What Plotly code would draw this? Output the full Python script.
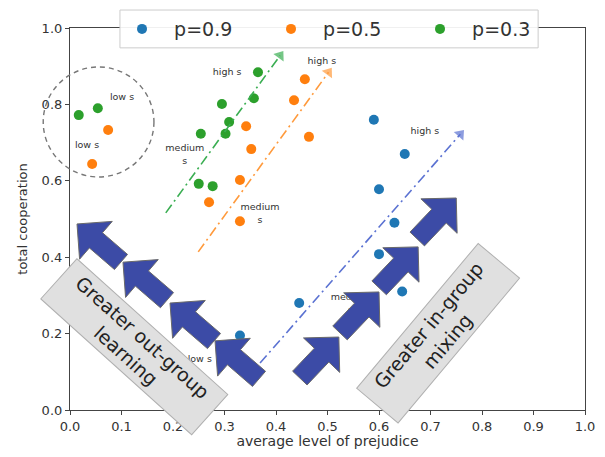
import math
import plotly.graph_objects as go

# ---------------- data ----------------
blue_x = [0.33, 0.445, 0.59, 0.65, 0.60, 0.63, 0.60, 0.645]
blue_y = [0.195, 0.28, 0.76, 0.67, 0.578, 0.49, 0.408, 0.31]

orange_x = [0.074, 0.043, 0.456, 0.435, 0.464, 0.342, 0.352, 0.330, 0.270, 0.330]
orange_y = [0.733, 0.644, 0.866, 0.811, 0.715, 0.743, 0.683, 0.602, 0.544, 0.494]

green_x = [0.017, 0.054, 0.365, 0.295, 0.357, 0.309, 0.302, 0.254, 0.250, 0.277]
green_y = [0.772, 0.790, 0.884, 0.801, 0.816, 0.754, 0.723, 0.723, 0.592, 0.586]

series_names = ["p=0.9", "p=0.5", "p=0.3"]

label_text = ["low s", "low s", "high s", "high s", "medium<br>s", "medium<br>s",
              "high s", "medium<br>s", "low s"]
label_x = [0.101, 0.033, 0.305, 0.489, 0.223, 0.369, 0.689, 0.544, 0.252]
label_y = [0.819, 0.691, 0.882, 0.911, 0.667, 0.513, 0.730, 0.277, 0.131]

# trend arrows (start, end)
green_line_x = [0.186, 0.408]
green_line_y = [0.516, 0.928]
orange_line_x = [0.249, 0.502]
orange_line_y = [0.414, 0.884]
blue_line_x = [0.369, 0.758]
blue_line_y = [0.123, 0.722]

x_ticks = [i / 10 for i in range(11)]
y_ticks = [i / 5 for i in range(6)]

# ---------------- style ----------------
C_BLUE = "#1f77b4"
C_ORANGE = "#ff7f0e"
C_GREEN = "#2ca02c"
FONT = "DejaVu Sans"

W, H = 515, 382  # plot area in px
FIG_W, FIG_H = 589, 441  # page body has an 8px margin
ML, MR, MT, MB = 62, 12, 20, 39

fig = go.Figure()

NB = "\u00a0\u00a0"
for name, xs, ys, c in [(series_names[0], blue_x, blue_y, C_BLUE),
                        (series_names[1], orange_x, orange_y, C_ORANGE),
                        (series_names[2], green_x, green_y, C_GREEN)]:
    fig.add_trace(go.Scatter(x=xs, y=ys, mode="markers", name=NB + name,
                             marker=dict(color=c, size=10, line=dict(width=0))))

for xs, ys, c in [(green_line_x, green_line_y, "#3aae52"),
                  (orange_line_x, orange_line_y, "#ff9a3c"),
                  (blue_line_x, blue_line_y, "#5b72d2")]:
    fig.add_trace(go.Scatter(x=xs, y=ys, mode="lines+markers", showlegend=False,
                             hoverinfo="skip",
                             line=dict(color=c, width=1.6, dash="10px,4px,2px,4px"),
                             marker=dict(symbol="triangle-up", size=[0, 11], color=c,
                                         angleref="previous", line=dict(width=0))))

fig.add_trace(go.Scatter(x=label_x, y=label_y, mode="text", text=label_text,
                         showlegend=False, hoverinfo="skip",
                         textfont=dict(family=FONT, size=9.5, color="#333333")))

shapes = []
# dashed circle
shapes.append(dict(type="circle", xref="paper", yref="paper",
                   x0=-0.052, x1=0.163, y0=0.61, y1=0.898,
                   line=dict(color="#777777", width=1.4, dash="5px,4px"),
                   layer="above"))


def block_arrow(tip, off_px, head_len=25, head_w=50, shaft_w=20):
    tx, ty = tip[0] * W, -tip[1] * H
    ex, ey = tx + off_px[0], ty + off_px[1]
    L = math.hypot(tx - ex, ty - ey)
    ux, uy = (tx - ex) / L, (ty - ey) / L
    nx, ny = -uy, ux
    bx, by = tx - ux * head_len, ty - uy * head_len
    pts = [(tx, ty),
           (bx + nx * head_w / 2, by + ny * head_w / 2),
           (bx + nx * shaft_w / 2, by + ny * shaft_w / 2),
           (ex + nx * shaft_w / 2, ey + ny * shaft_w / 2),
           (ex - nx * shaft_w / 2, ey - ny * shaft_w / 2),
           (bx - nx * shaft_w / 2, by - ny * shaft_w / 2),
           (bx - nx * head_w / 2, by - ny * head_w / 2)]
    path = "M " + " L ".join(f"{px / W:.5f},{-py / H:.5f}" for px, py in pts) + " Z"
    return dict(type="path", xref="paper", yref="paper", path=path,
                fillcolor="#3c4ba6", line=dict(color="#6a6a6a", width=1),
                layer="above")


out_tips = [(0.0136, 0.487), (0.1029, 0.387), (0.1942, 0.280), (0.2816, 0.181)]
in_tips = [(0.522, 0.191), (0.600, 0.309), (0.676, 0.427), (0.750, 0.555)]
for t in out_tips:
    shapes.append(block_arrow(t, (44, 38)))
for t in in_tips:
    shapes.append(block_arrow(t, (-39, 41)))

# legend frame
shapes.append(dict(type="rect", xref="paper", yref="paper",
                   x0=0.097, x1=0.909, y0=0.948, y1=1.047,
                   fillcolor="rgba(255,255,255,0.92)",
                   line=dict(color="#cccccc", width=1), layer="above"))

SP = "\u00a0\u00a0"
annotations = [
    dict(xref="paper", yref="paper", x=0.124, y=0.165, showarrow=False,
         xanchor="center", yanchor="middle",
         text=SP + "Greater out-group" + SP + "<br>learning", textangle=42,
         font=dict(family=FONT, size=19, color="#222222"),
         bgcolor="#e0e0e0", bordercolor="#b0b0b0", borderwidth=1, borderpad=3),
    dict(xref="paper", yref="paper", x=0.714, y=0.201, showarrow=False,
         xanchor="center", yanchor="middle",
         text=SP + "Greater in-group" + SP + "<br>mixing", textangle=-50,
         font=dict(family=FONT, size=19, color="#222222"),
         bgcolor="#e0e0e0", bordercolor="#b0b0b0", borderwidth=1, borderpad=3),
]

axis_common = dict(range=[0, 1], showgrid=False, zeroline=False, showline=True,
                   linecolor="#444444", linewidth=1.2, mirror=True,
                   ticks="outside", ticklen=4, tickcolor="#444444",
                   tickfont=dict(family=FONT, size=13, color="#333333"),
                   tickformat=".1f", automargin=False)

fig.update_layout(
    width=FIG_W, height=FIG_H,
    margin=dict(l=ML, r=MR, t=MT, b=MB, autoexpand=False),
    paper_bgcolor="white", plot_bgcolor="white",
    font=dict(family=FONT, color="#333333"),
    xaxis=dict(**axis_common, tickvals=x_ticks,
               title=dict(text="average level of prejudice", standoff=9,
                          font=dict(family=FONT, size=14, color="#333333"))),
    yaxis=dict(**axis_common, tickvals=y_ticks,
               title=dict(text="total cooperation", standoff=11,
                          font=dict(family=FONT, size=13, color="#333333"))),
    legend=dict(orientation="h", x=0.101, xanchor="left", y=1.047, yanchor="top",
                bgcolor="rgba(0,0,0,0)", borderwidth=0,
                font=dict(family=FONT, size=19, color="#333333"),
                entrywidth=104, entrywidthmode="pixels"),
    shapes=shapes,
    annotations=annotations,
)

fig.write_html("out.html")
